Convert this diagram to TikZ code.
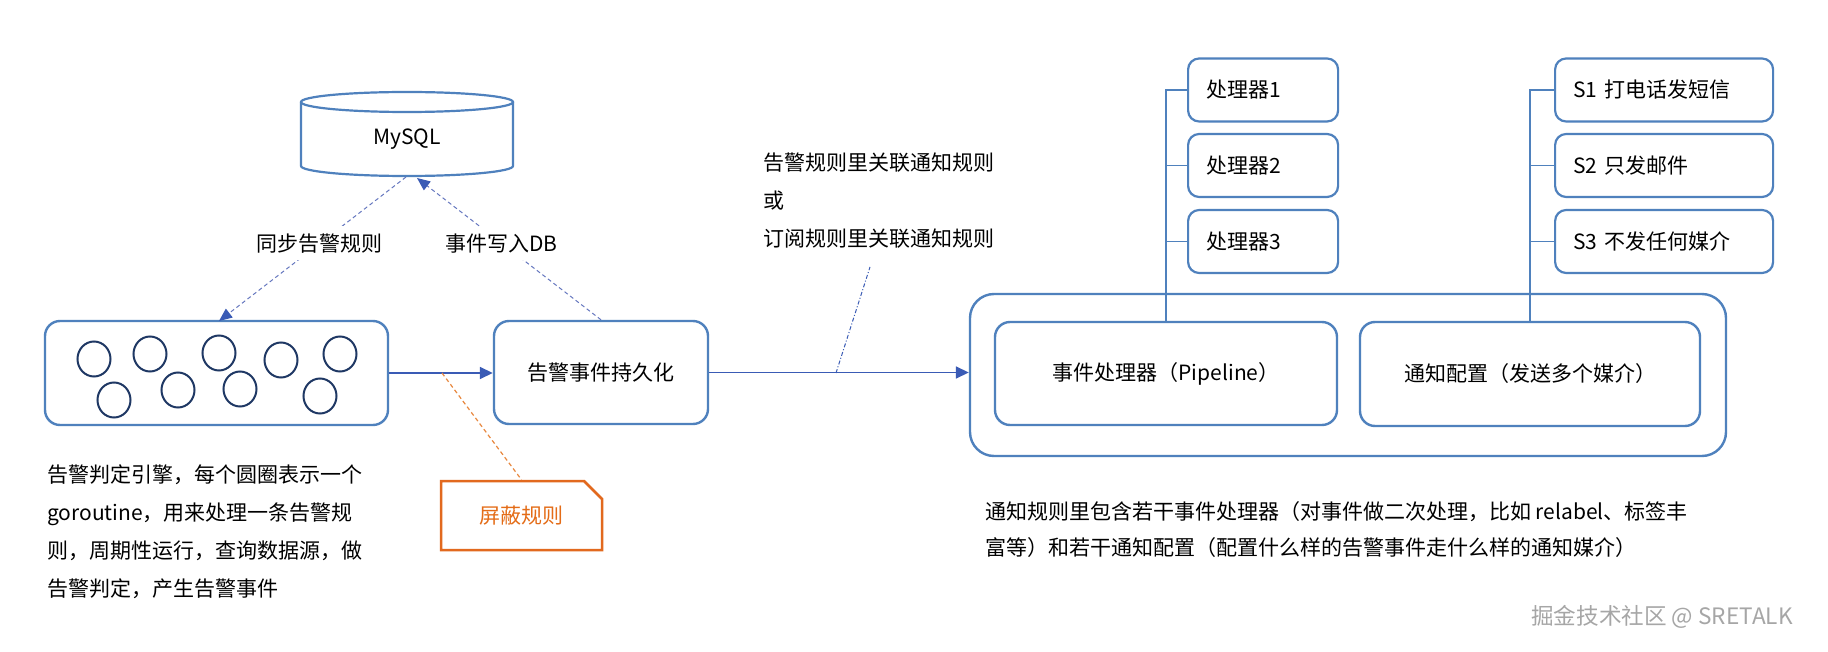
\documentclass[tikz,border=0pt]{standalone}
\usepackage{fontspec}
\setmainfont{Noto Sans CJK SC}
\usetikzlibrary{arrows.meta,shapes.misc,calc}
\definecolor{boxblue}{HTML}{4F81BD}
\definecolor{navy}{HTML}{1F3864}
\definecolor{arrblue}{HTML}{3A5BB5}
\definecolor{dashblue}{HTML}{6577BF}
\definecolor{orangeline}{HTML}{E8883F}
\definecolor{orangebox}{HTML}{E2691E}
\definecolor{orangetext}{HTML}{E46C17}
\definecolor{wmgray}{HTML}{A6A6A6}
\tikzset{
  blk/.style={draw=boxblue, line width=2.4pt, rounded corners=15pt, inner sep=0pt},
  smallbox/.style={draw=boxblue, line width=2.2pt, rounded corners=11pt, anchor=west, align=left,
    inner xsep=18pt, inner ysep=0pt, minimum height=63pt},
  goro/.style={ellipse, draw=navy, line width=2pt, minimum width=33pt, minimum height=35pt, inner sep=0pt},
  solidarr/.style={draw=arrblue, line width=1.6pt, -{Triangle[length=13pt,width=12pt]}},
  dasharr/.style={draw=dashblue, line width=1pt, dash pattern=on 4pt off 3pt,
    -{Triangle[length=13pt,width=11pt,color=arrblue]}},
  lbl/.style={fill=white, inner sep=7pt},
  tree/.style={draw=boxblue, line width=1.6pt},
  maskline/.style={draw=orangeline, line width=1.2pt, dash pattern=on 4pt off 3pt},
  maskbox/.style={draw=orangebox, line width=2.5pt, chamfered rectangle, chamfered rectangle corners=north east,
    chamfered rectangle xsep=9pt, chamfered rectangle ysep=9pt, inner sep=0pt, text=orangetext},
  dashdotblue/.style={draw=arrblue, line width=1pt, dash pattern=on 4pt off 2pt on 1pt off 2pt},
  txt/.style={anchor=west, align=left, inner sep=0pt}
}
\usetikzlibrary{shapes.geometric}
\begin{document}
\begin{tikzpicture}[x=1pt,y=-1pt, every node/.style={font=\fontsize{21}{38}\selectfont}]
\fill[white] (0,0) rectangle (1828,652);
\useasboundingbox (0,0) rectangle (1828,652);

% database cylinder
\draw[draw=boxblue, line width=2.2pt] (301,102) -- (301,166) arc[start angle=180, end angle=360, x radius=106pt, y radius=10pt] -- (513,102);
\draw[draw=boxblue, line width=2.2pt] (407,102) ellipse[x radius=106pt, y radius=10pt];
\node (db) at (407,139) {MySQL};
\coordinate (dbS) at (406,177);
\coordinate (dbA) at (417,178);

% engine box with goroutines
\node[blk, minimum width=343pt, minimum height=104pt] (engine) at (216.5,373) {};
\node[goro] (c1) at (94,359) {};
\node[goro] (c2) at (150,354) {};
\node[goro] (c3) at (219,353) {};
\node[goro] (c4) at (281,360) {};
\node[goro] (c5) at (340,354) {};
\node[goro] (c6) at (114,400) {};
\node[goro] (c7) at (178,390) {};
\node[goro] (c8) at (240,389) {};
\node[goro] (c9) at (320,396) {};
\coordinate (syncEnd) at (219,321);

% persistence
\node[blk, minimum width=214pt, minimum height=103pt] (persist) at (601,372.5) {告警事件持久化};

\draw[dasharr] (dbS) -- node[lbl, pos=0.46] (synclbl) {同步告警规则} (syncEnd);
\draw[dasharr] (persist.north) -- node[lbl, pos=0.54] (dblbl) {事件写入DB} (dbA);

\draw[solidarr] (engine.east) -- (engine.east -| persist.west);

% mute rule
\coordinate (maskA) at (442,373);
\node[maskbox, minimum width=161pt, minimum height=69pt] (mask) at (521.5,515.5) {\raisebox{-4pt}{屏蔽规则}};
\draw[maskline] (maskA) -- (mask.north);

% description
\node[txt] (desc) at (47,532) {告警判定引擎，每个圆圈表示一个\\goroutine，用来处理一条告警规\\则，周期性运行，查询数据源，做\\告警判定，产生告警事件};

% notify rule
\node[blk, rounded corners=24pt, minimum width=756pt, minimum height=162pt] (outer) at (1348,375) {};
\node[blk, minimum width=342pt, minimum height=103pt] (pipe) at (1166,373.5) {事件处理器（Pipeline）};
\node[blk, minimum width=340pt, minimum height=104pt] (notify) at (1530,374) {通知配置（发送多个媒介）};

\draw[solidarr] (persist.east) -- (persist.east -| outer.west);

\node[txt] (link) at (763,201) {告警规则里关联通知规则\\或\\订阅规则里关联通知规则};
\coordinate (linkA) at (836,373);
\coordinate (linkB) at (870,267);
\draw[dashdotblue] (linkA) -- (linkB);

% processors
\node[smallbox, text width=114pt] (p1) at (1187,90) {处理器1};
\node[smallbox, text width=114pt] (p2) at (1187,165.5) {处理器2};
\node[smallbox, text width=114pt] (p3) at (1187,241.5) {处理器3};
\draw[tree] (pipe.north) -- (pipe.north |- p1.west) -- (p1.west);
\draw[tree] (p2.west) -- (p2.west -| pipe.north);
\draw[tree] (p3.west) -- (p3.west -| pipe.north);

% senders
\node[smallbox, text width=182pt] (s1) at (1554,90) {S1 打电话发短信};
\node[smallbox, text width=182pt] (s2) at (1554,165.5) {S2 只发邮件};
\node[smallbox, text width=182pt] (s3) at (1554,241.5) {S3 不发任何媒介};
\draw[tree] (notify.north) -- (notify.north |- s1.west) -- (s1.west);
\draw[tree] (s2.west) -- (s2.west -| notify.north);
\draw[tree] (s3.west) -- (s3.west -| notify.north);

\node[txt, font=\fontsize{21}{36}\selectfont] (note) at (985,530) {通知规则里包含若干事件处理器（对事件做二次处理，比如 relabel、标签丰\\富等）和若干通知配置（配置什么样的告警事件走什么样的通知媒介）};

\node[text=wmgray, font=\fontsize{22.6}{28}\selectfont] (wm) at (1662,617) {掘金技术社区 @ SRETALK};
\end{tikzpicture}
\end{document}
